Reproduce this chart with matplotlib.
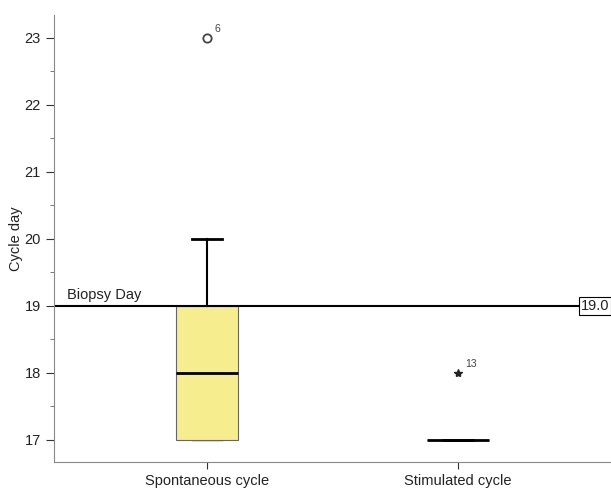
import matplotlib
matplotlib.use("Agg")
import matplotlib.pyplot as plt
from matplotlib.ticker import MultipleLocator

plt.rcParams['font.family'] = ['Liberation Sans', 'DejaVu Sans']

categories = ["Spontaneous cycle", "Stimulated cycle"]
q1 = [17, 17]
med = [18, 17]
q3 = [19, 17]
whislo = [17, 17]
whishi = [20, 17]
fliers = [[23], [18]]
flier_labels = ["6", "13"]
flier_markers = ["o", "*"]
biopsy_day = 19.0

fig = plt.figure(figsize=(6.11, 4.91), dpi=100)
ax = fig.add_axes([0.0884, 0.059, 0.9116, 0.91])

stats = []
for i in range(2):
    stats.append(dict(q1=q1[i], med=med[i], q3=q3[i], whislo=whislo[i],
                      whishi=whishi[i], fliers=[], label=categories[i]))

res = ax.bxp(stats, positions=[1, 2], widths=0.245, patch_artist=True,
             boxprops=dict(facecolor="#f6ed8e", edgecolor="#666666", linewidth=0.8),
             medianprops=dict(color="black", linewidth=2),
             whiskerprops=dict(color="black", linewidth=1.5),
             capprops=dict(color="black", linewidth=2), capwidths=[0.12, 0.12],
             showfliers=False)
# lower caps are thin (hidden under box edge)
for k, cap in enumerate(res["caps"]):
    if k % 2 == 0:
        cap.set_linewidth(1.0)
        cap.set_color("#555555")
        cap.set_zorder(1)

for i in range(2):
    for v in fliers[i]:
        if flier_markers[i] == "o":
            ax.plot(i + 1, v, "o", mfc="white", mec="#444444", ms=6, mew=1.3)
        else:
            ax.plot(i + 1, v, "*", color="#222222", ms=6)
        ax.annotate(flier_labels[i], (i + 1, v), xytext=(5, 4), textcoords="offset points",
                    fontsize=7.5, color="#444444")

ax.axhline(biopsy_day, color="black", linewidth=1.5)
ax.text(0.44, biopsy_day + 0.06, "Biopsy Day", fontsize=10.5, va="bottom", ha="left",
        color="#222222")
ax.text(2.605, biopsy_day, f"{biopsy_day:.1f}", fontsize=10.5, va="center", ha="right",
        color="#222222",
        bbox=dict(boxstyle="square,pad=0.12", fc="white", ec="black", lw=0.8))

ax.set_xlim(0.39, 2.61)
ax.set_ylim(16.67, 23.34)
ax.yaxis.set_major_locator(MultipleLocator(1))
ax.yaxis.set_minor_locator(MultipleLocator(0.5))
ax.tick_params(axis="y", which="major", length=6, color="#333333", labelsize=10.5,
               labelcolor="#222222")
ax.tick_params(axis="y", which="minor", length=3, color="#666666")
ax.tick_params(axis="x", length=5, color="#333333", labelsize=10.5, labelcolor="#222222")
ax.set_xticks([1, 2])
ax.set_xticklabels(categories)
ax.set_ylabel("Cycle day", fontsize=10.5, color="#222222", labelpad=1)
for s in ["top", "right"]:
    ax.spines[s].set_visible(False)
for s in ["left", "bottom"]:
    ax.spines[s].set_color("#888888")

fig.savefig("out.png", dpi=100)
